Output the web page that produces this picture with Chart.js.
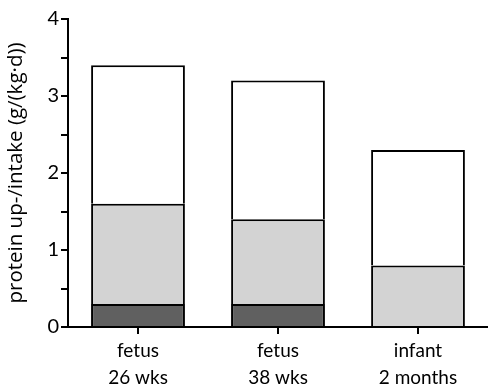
<!DOCTYPE html>
<html>
<head>
<meta charset="utf-8">
<script src="https://cdn.jsdelivr.net/npm/chart.js@4"></script>
<style>
  html, body { margin: 0; padding: 0; background: #fff; }
  #wrap { width: 488px; height: 386px; }
</style>
</head>
<body>
<div id="wrap"><canvas id="c" width="488" height="386"></canvas></div>
<script>
// Categories (two-line labels)
const categories = [['fetus', '26 wks'], ['fetus', '38 wks'], ['infant', '2 months']];
// Stacked segment heights in g/(kg·d)
const darkSegment  = [0.3, 0.3, 0];
const lightSegment = [1.3, 1.1, 0.8];
const whiteSegment = [1.8, 1.8, 1.5];
// Y axis labels shown at whole numbers only
const yLabels = [0, 1, 2, 3, 4];

const FONT = 'Lato, "Open Sans", sans-serif';
const TITLE_FONT = '"Open Sans", Lato, sans-serif';

// Each segment draws its top and sides; the segment above it shares that top edge
const seg = (data, color) => ({
  data: data,
  backgroundColor: color,
  borderColor: '#000',
  borderWidth: ctx => ctx.raw === 0 ? 0 : { top: 2, left: 2, right: 2, bottom: 0 },
  borderSkipped: false,
  barPercentage: 0.67,
  categoryPercentage: 1.0
});

new Chart(document.getElementById('c'), {
  type: 'bar',
  data: {
    labels: categories,
    datasets: [
      seg(darkSegment, '#606060'),
      seg(lightSegment, '#d3d3d3'),
      seg(whiteSegment, '#ffffff')
    ]
  },
  options: {
    responsive: false,
    animation: false,
    devicePixelRatio: 1,
    layout: { padding: { top: 19, right: 0, left: 0, bottom: 0 } },
    plugins: { legend: { display: false }, tooltip: { enabled: false } },
    scales: {
      x: {
        stacked: true,
        offset: true,
        grid: { display: true, offset: false, drawOnChartArea: false, tickLength: 7, color: '#000', lineWidth: 2 },
        border: { display: true, color: '#000', width: 2 },
        ticks: { color: '#000', font: { family: FONT, size: 19, lineHeight: 1.4 }, padding: 4, maxRotation: 0 },
        afterFit: s => { s.height = 59; }
      },
      y: {
        stacked: true,
        min: 0,
        max: 4,
        grid: { display: true, drawOnChartArea: false, tickLength: 7, color: '#000', lineWidth: 2 },
        border: { display: true, color: '#000', width: 2 },
        ticks: {
          stepSize: 0.5,
          color: '#000',
          font: { family: FONT, size: 20 },
          padding: 2,
          callback: v => yLabels.includes(v) ? String(v) : ''
        },
        title: {
          display: true,
          text: 'protein up-/intake (g/(kg·d))',
          color: '#000',
          font: { family: TITLE_FONT, size: 20.5 },
          padding: { top: 4, bottom: 0 }
        },
        afterFit: s => { s.width = 68; }
      }
    }
  }
});
</script>
</body>
</html>
